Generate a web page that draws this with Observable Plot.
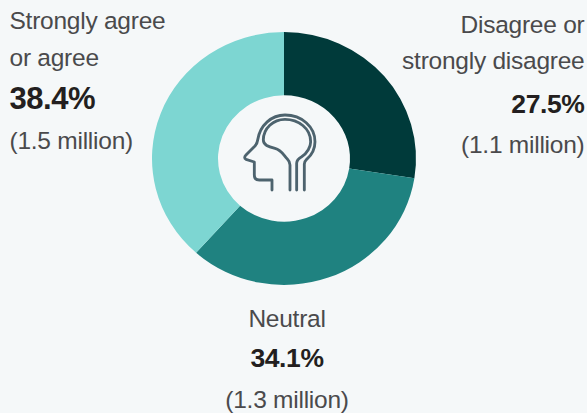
<!DOCTYPE html>
<html>
<head>
<meta charset="utf-8">
<script src="https://cdn.jsdelivr.net/npm/d3@7"></script>
<script src="https://cdn.jsdelivr.net/npm/@observablehq/plot@0.6"></script>
<style>
  html, body { margin: 0; padding: 0; background: #f5f8f9; }
  svg { display: block; }
</style>
</head>
<body>
<div id="chart"></div>
<script>
// Survey response shares, clockwise from twelve o'clock
const groups = ["Disagree or strongly disagree", "Neutral", "Strongly agree or agree"];
const shares = [27.5, 34.1, 38.4];
const millions = ["1.1", "1.3", "1.5"];
const ringColors = ["#003a3a", "#1f8280", "#7dd6d2"];
const labelLines = [
  ["Disagree or", "strongly disagree"],
  ["Neutral"],
  ["Strongly agree", "or agree"]
];

const rows = groups.map((group, i) => ({group, share: shares[i]}));

// Ring geometry: the bar's x channel arrives in radians, and is bent into arcs
function ringRender(index, scales, values) {
  const arc = d3.arc().innerRadius(66).outerRadius(132);
  const g = d3.create("svg:g").attr("transform", "translate(284,158.5) scale(1,0.958)");
  for (const i of index) {
    g.append("path")
      .attr("d", arc({startAngle: values.x1[i], endAngle: values.x2[i]}))
      .attr("fill", values.fill[i]);
  }
  return g.node();
}

// Head-in-profile pictogram in the middle of the ring
function headIcon() {
  const g = d3.create("svg:g")
    .attr("transform", "translate(210,90) scale(0.3333)")
    .attr("fill", "none")
    .attr("stroke", "#4d636e")
    .attr("stroke-width", 8.5)
    .attr("stroke-linecap", "round")
    .attr("stroke-linejoin", "round");
  g.append("path").attr("d",
    "M283 300V222Q283 215 290 208C305 195 315 175 315 155C315 110 275 75 225 75C185 75 150 105 143 150Q142 160 135 168L108 195Q100 203 108 208L133 216V255Q133 270 148 270H186V300");
  g.append("path").attr("d",
    "M240 300V225Q240 215 232 207C220 195 215 180 195 175C175 170 160 165 160 150C160 115 190 88 225 88C265 88 302 115 302 155C302 170 292 190 275 200Q260 208 260 220V300");
  return g.node();
}

const lightFont = {fontFamily: "Liberation Sans", fontWeight: 400, fontSize: 24.5, fill: "#4a4a4c", tracking: "-0.01em"};
const boldFont = {fontFamily: "Liberation Sans", fontWeight: 700, fill: "#231f20", tracking: "-0.015em"};

// One stack of text lines, each placed on its own baseline
function labelStack(i, frameAnchor, textAnchor, dx, boldSize, baselines) {
  const lines = [
    ...labelLines[i].map(text => [text, lightFont]),
    [`${shares[i]}%`, {...boldFont, fontSize: boldSize}],
    [`(${millions[i]} million)`, lightFont]
  ];
  return lines.map(([text, {tracking, ...font}], k) =>
    Plot.text([text], {
      text: d => d,
      frameAnchor,
      textAnchor,
      lineAnchor: "bottom",
      dx,
      dy: baselines[k],
      ...font,
      render(index, scales, values, dimensions, context, next) {
        const node = next(index, scales, values, dimensions, context);
        node.style.letterSpacing = tracking;
        return node;
      }
    }));
}

const chart = Plot.plot({
  width: 587,
  height: 413,
  margin: 0,
  style: {background: "#f5f8f9"},
  x: {domain: [0, 100], range: [0, 2 * Math.PI], axis: null},
  color: {domain: groups, range: ringColors},
  marks: [
    Plot.barX(rows, Plot.stackX({x: "share", fill: "group", order: null, render: ringRender})),
    headIcon,
    ...labelStack(0, "top-right", "end", -3, 26.5, [32, 68, 112, 152]),
    ...labelStack(1, "top", "middle", -7, 26.5, [326, 366, 407]),
    ...labelStack(2, "top-left", "start", 9, 31, [28, 65, 108, 148])
  ]
});
document.getElementById("chart").append(chart);
</script>
</body>
</html>
